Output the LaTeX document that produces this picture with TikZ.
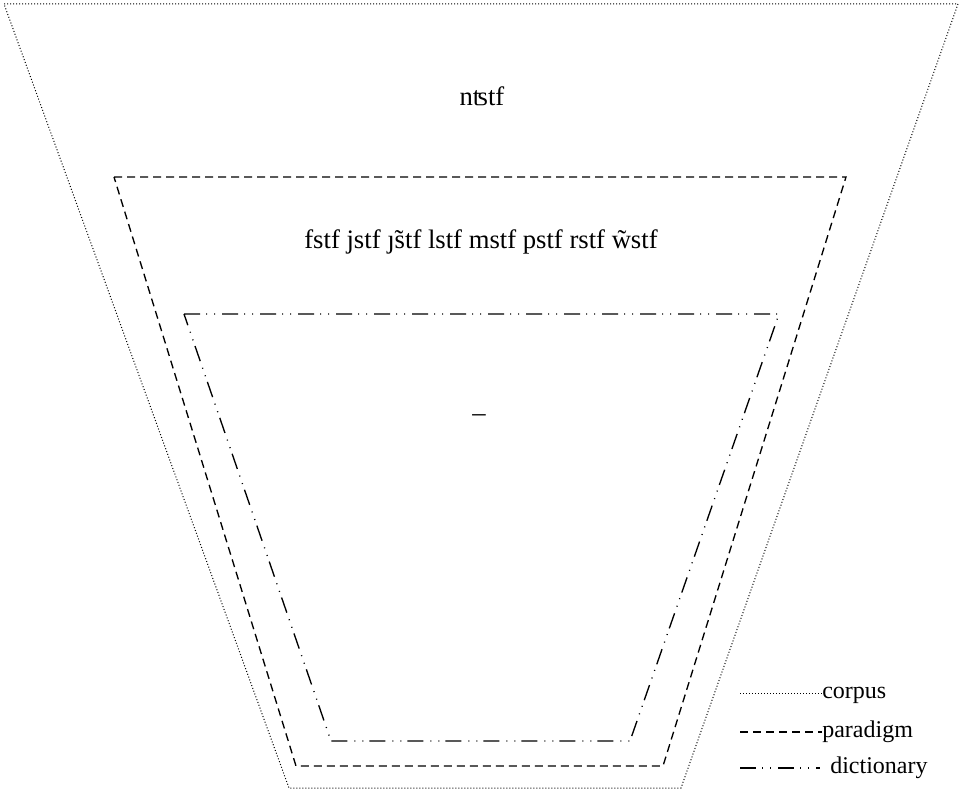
\documentclass[tikz,border=0pt]{standalone}
\usepackage{fontspec}
\setmainfont{Liberation Serif}
\usetikzlibrary{positioning}

\begin{document}
\begin{tikzpicture}[
        x=0.75pt, y=-0.75pt,
        corpusline/.style={line width=0.75pt, dash pattern=on 0.75pt off 1.5pt},
        paradigmline/.style={line width=1pt, dash pattern=on 6pt off 3.75pt},
        dictline/.style={line width=1pt, dash pattern=on 12pt off 4.5pt on 0.75pt off 5.25pt on 0.75pt off 5.25pt},
        label/.style={font=\fontsize{20}{24}\selectfont, inner sep=0pt},
        legend/.style={font=\fontsize{18}{21}\selectfont, inner sep=0pt, anchor=base west}
    ]
        \useasboundingbox (0,0) rectangle (961,791);
        % corpus
        \coordinate (c1) at (4,4);
        \coordinate (c2) at (958,4);
        \coordinate (c3) at (681,788);
        \coordinate (c4) at (289,788);
        \draw[corpusline] (c1) -- (c2) -- (c3) -- (c4) -- cycle;
        % paradigm
        \coordinate (p1) at (114,177);
        \coordinate (p2) at (846,177);
        \coordinate (p3) at (663,766);
        \coordinate (p4) at (296,766);
        \draw[paradigmline] (p1) -- (p2) -- (p3) -- (p4) -- cycle;
        % dictionary
        \coordinate (d1) at (184,314);
        \coordinate (d2) at (779,314);
        \coordinate (d3) at (630,741);
        \coordinate (d4) at (331,741);
        \draw[dictline] (d1) -- (d2) -- (d3) -- (d4) -- cycle;

        \node[label] (corpustext) at (482,96) {nʦtf};
        \node[label] (paradigmtext) at (481,242) {fstf jstf \~{\j}stf lstf mstf pstf rstf w̃stf};
        \node[label] (dicttext) at (479,418) {–};

        % legend
        \coordinate (lc) at (740,693);
        \node[legend] (lctext) at (822,698) {corpus};
        \coordinate (lp) at (740,732);
        \node[legend] (lptext) at (822,737) {paradigm};
        \coordinate (ld) at (740,768);
        \node[legend] (ldtext) at (830,773) {dictionary};
        \draw[corpusline]   (lc) -- (lc -| lctext.west);
        \draw[paradigmline] (lp) -- (lp -| lptext.west);
        \draw[dictline]     (ld) -- ++(80,0);
    \end{tikzpicture}
\end{document}
